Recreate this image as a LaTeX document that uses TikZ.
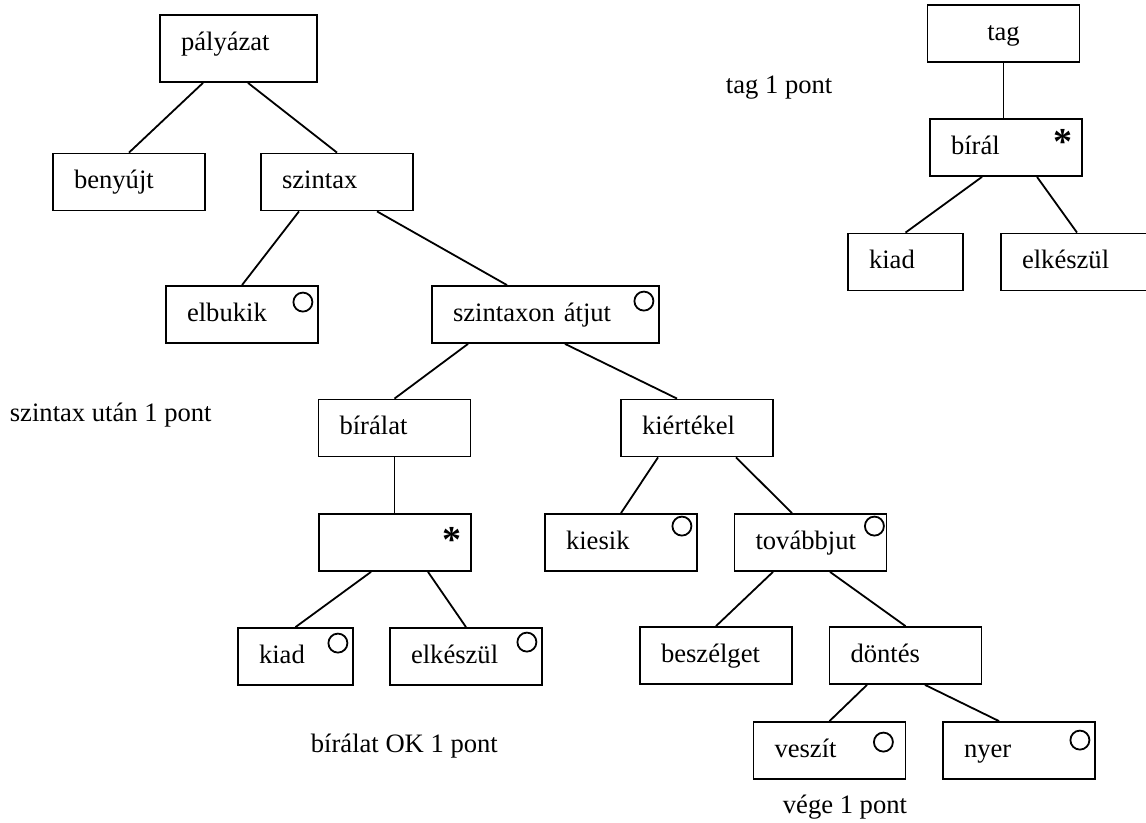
\documentclass[tikz,border=0pt]{standalone}
\usepackage{fontspec}
\setmainfont{Liberation Serif}
\begin{document}
\begin{tikzpicture}[x=0.5pt, y=-0.5pt, line width=0.9pt,
    font=\fontsize{13.3pt}{16pt}\selectfont,
    box/.style={draw, rectangle, minimum height=28.5pt, inner xsep=10.5pt, inner ysep=0pt,
        text width=55pt, align=left, text height=1.5ex, text depth=0pt},
    widebox/.style={box, text width=92.5pt},
    smallbox/.style={box, text width=36.5pt},
    csillag/.style={anchor=base, inner sep=0pt, font=\fontsize{19pt}{19pt}\selectfont\bfseries},
    karika/.style={radius=4.75pt},
    felirat/.style={anchor=base west, inner sep=0pt}]
    \clip (0,0) rectangle (1146,823);
    \node[box, text width=57.5pt, minimum height=33.5pt, text depth=4.5pt] (palyazat) at (238.5,48.5) {pályázat};
    \node[box] (benyujt) at (129,182) {benyújt};
    \node[box] (szintax) at (337,182) {szintax};
    \node[box] (elbukik) at (242,314.5) {elbukik};
    \node[widebox] (atjut) at (545.5,314.5) {szintaxon átjut};
    \node[box] (biralat) at (394.5,428) {bírálat};
    \node[box] (kiertekel) at (697,428) {kiértékel};
    \node[box] (ures) at (395,542.5) {};
    \node[box] (kiesik) at (621,542.5) {kiesik};
    \node[box] (tovabbjut) at (810.5,542.5) {továbbjut};
    \node[smallbox] (kiad) at (295.5,656.5) {kiad};
    \node[box] (elkeszul) at (466,656.5) {elkészül};
    \node[box] (beszelget) at (716,655.5) {beszélget};
    \node[box] (dontes) at (905.5,655.5) {döntés};
    \node[box] (veszit) at (829.5,750.5) {veszít};
    \node[box] (nyer) at (1019,750.5) {nyer};
    \node[box, align=center] (tag) at (1003.5,33.5) {tag};
    \node[box] (biral) at (1006,147.5) {bírál};
    \node[smallbox] (tagkiad) at (905.5,262) {kiad};
    \node[box] (tagelkeszul) at (1077,262) {elkészül};
    \draw ([shift={(-35.5,0)}]palyazat.south) -- (benyujt.north);
    \draw ([shift={(9.5,0)}]palyazat.south) -- (szintax.north);
    \draw ([shift={(-38,0)}]szintax.south) -- (elbukik.north);
    \draw ([shift={(40,0)}]szintax.south) -- ([shift={(-38.5,0)}]atjut.north);
    \draw ([shift={(-77.5,0)}]atjut.south) -- (biralat.north);
    \draw ([shift={(19.5,0)}]atjut.south) -- ([shift={(-20,0)}]kiertekel.north);
    \draw (biralat.south) -- (biralat.south |- ures.north);
    \draw ([shift={(-39,0)}]kiertekel.south) -- (kiesik.north);
    \draw ([shift={(39,0)}]kiertekel.south) -- ([shift={(-18.5,0)}]tovabbjut.north);
    \draw ([shift={(-24,0)}]ures.south) -- (kiad.north);
    \draw ([shift={(33,0)}]ures.south) -- (elkeszul.north);
    \draw ([shift={(-37.5,0)}]tovabbjut.south) -- (beszelget.north);
    \draw ([shift={(19.5,0)}]tovabbjut.south) -- (dontes.north);
    \draw ([shift={(-38.5,0)}]dontes.south) -- (veszit.north);
    \draw ([shift={(19.5,0)}]dontes.south) -- ([shift={(-20,0)}]nyer.north);
    \draw (tag.south) -- (tag.south |- biral.north);
    \draw ([shift={(-24,0)}]biral.south) -- (tagkiad.north);
    \draw ([shift={(31,0)}]biral.south) -- (tagelkeszul.north);
    \draw ([shift={(-16,17)}]elbukik.north east) circle[karika];
    \draw ([shift={(-16,16)}]atjut.north east) circle[karika];
    \draw ([shift={(-16,13)}]kiesik.north east) circle[karika];
    \draw ([shift={(-13,13)}]tovabbjut.north east) circle[karika];
    \draw ([shift={(-16,16)}]kiad.north east) circle[karika];
    \draw ([shift={(-16,15)}]elkeszul.north east) circle[karika];
    \draw ([shift={(-23,21)}]veszit.north east) circle[karika];
    \draw ([shift={(-16,19)}]nyer.north east) circle[karika];
    \node[csillag] (csillag1) at ([shift={(-20,39)}]ures.north east) {*};
    \node[csillag] (csillag2) at ([shift={(-20,36)}]biral.north east) {*};
    \node[felirat] (tagpont) at (725,94) {tag 1 pont};
    \node[felirat] (szintaxpont) at (9,422) {szintax után 1 pont};
    \node[felirat] (biralatpont) at (310,752) {bírálat OK 1 pont};
    \node[felirat] (vegepont) at (782,813) {vége 1 pont};
\end{tikzpicture}
\end{document}
